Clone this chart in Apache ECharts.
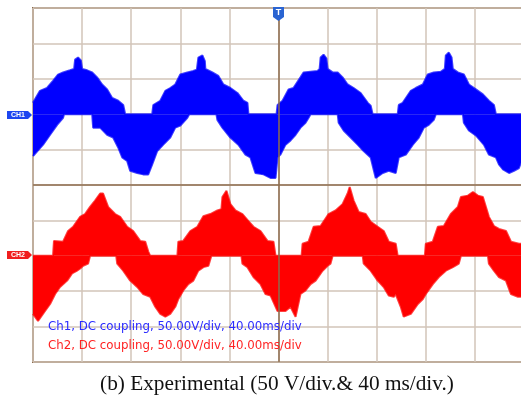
<!DOCTYPE html>
<html lang="en" style="height: 100%">

<head>
  <meta charset="utf-8">
  <style>
    html,
    body {
      margin: 0;
      padding: 0;
      width: 100%;
      height: 100%;
      overflow: hidden;
      background: #fff;
    }
  </style>
</head>

<body>
  <!-- a little wider than the window: the scope frame runs off the right edge -->
  <div id="container" style="height: 398px;width: 528px;"></div>

  <script type="text/javascript" src="https://cdn.jsdelivr.net/npm/echarts@6/dist/echarts.min.js"></script>
  <script type="text/javascript">

    // time in ms (40 ms/div), voltage in V (50 V/div)
    // upper = highest excursion, lower = lowest excursion
    const ch1Upper = [
      [0, 16], [5.7, 33], [11.4, 37], [16.3, 47], [20.4, 56], [24.5, 59], [30.2, 62], [33.5, 64], [34.3, 77], [36.7, 80],
      [39, 76], [40, 64], [44.1, 62], [48.2, 59], [52.2, 52], [56.3, 42], [60.4, 35], [64.5, 23], [69.4, 19], [73.5, 13],
      [75.1, 0], [97.1, 0],
      [98, 13], [103.7, 19], [107.8, 33], [111.8, 37], [115.9, 42], [120, 56], [125.7, 59], [130.6, 61], [133.5, 63], [134.7, 80],
      [138, 83], [140, 75], [140.4, 64], [146.1, 59], [151, 54], [155.1, 42], [160.8, 37], [166.5, 30], [171.4, 19], [174.7, 16],
      [175.5, 0], [198.4, 0],
      [199.2, 13], [203.3, 19], [208.2, 35], [212.2, 37], [217.9, 52], [220.4, 59], [226.1, 60], [231.8, 61], [233.5, 64], [234.3, 80],
      [236.7, 84], [239, 79], [240, 64], [244.1, 59], [248.2, 59], [252.2, 52], [256.3, 42], [261.2, 37], [266.9, 30], [272.7, 16],
      [275.1, 12], [276.7, 0], [297.1, 0],
      [298, 13], [301.2, 16], [307.8, 33], [311.8, 37], [317.6, 42], [321.6, 56], [326.5, 59], [332.2, 60], [335.5, 64], [336.3, 83],
      [338.8, 87], [341, 80], [342, 64], [346.1, 59], [351, 56], [355.1, 42], [360.8, 35], [366.5, 28], [371.4, 19], [375.5, 13],
      [377.1, 0], [402, 0]
    ];
    const ch1Lower = [
      [0, -59], [1.6, -57], [8.2, -43], [13.9, -29], [19.6, -15], [24.5, -5], [25.3, 0], [48.2, 0],
      [49, -19], [54.7, -19], [60.4, -29], [65.3, -33], [69.4, -47], [72.7, -61], [76.7, -66], [79.2, -80], [84.9, -83],
      [89.8, -85], [93.9, -85], [97.1, -71], [101.2, -52], [106.1, -43], [111.8, -33], [115.9, -19], [120, -16],
      [125.7, -5], [127.3, 0], [149.4, 0],
      [150.2, -8], [154.3, -19], [160.8, -33], [167.3, -43], [173.1, -57], [177.1, -61], [181.2, -83], [187.8, -85],
      [193.5, -90], [197.6, -90], [199.2, -61], [201.6, -57], [205.7, -43], [209.8, -37], [213.9, -29], [217.9, -19],
      [222, -12], [224.5, -5], [226.1, 0], [248.2, 0],
      [249, -12], [253.1, -23], [258.8, -33], [264.5, -43], [269.4, -52], [275.1, -61], [279.2, -90], [284.9, -83],
      [289.8, -80], [295.5, -83], [298, -61], [303.7, -57], [309.4, -43], [314.3, -33], [318.4, -19], [322.4, -15],
      [326.5, -8], [328.2, 0], [350.2, 0],
      [351, -12], [355.1, -23], [360.8, -30], [367.3, -43], [371.4, -57], [377.1, -61], [379.6, -71], [382.9, -78],
      [387.8, -83], [391.8, -80], [395.9, -76], [398.4, -64], [402, -60]
    ];
    const ch2Upper = [
      [0, 0], [16.3, 0], [17.1, 21], [24.5, 20], [28.6, 35], [32.7, 41], [38.4, 55], [42.4, 59], [46.5, 69], [50.6, 78],
      [54.7, 88], [57.1, 88], [61.2, 69], [66.9, 59], [71, 55], [76.7, 41], [81.6, 35], [87.3, 21], [91.4, 20], [93.9, 6],
      [95.5, 0], [117.6, 0],
      [118.4, 20], [122.4, 21], [128.2, 35], [133.9, 41], [138.8, 56], [144.5, 59], [150.2, 64], [153.5, 66], [154.3, 83], [157.6, 92],
      [160.8, 73], [164.9, 64], [170.6, 59], [175.5, 49], [179.6, 41], [185.3, 35], [191, 21], [195.9, 20], [197.6, 0],
      [218.8, 0],
      [219.6, 17], [224.5, 20], [228.6, 41], [234.3, 42], [240.8, 59], [246.5, 64], [252.2, 73], [256.3, 88], [258, 97],
      [261.2, 78], [265.3, 62], [271, 59], [275.1, 48], [280.8, 41], [285.7, 35], [289.8, 20], [295.5, 17], [297.1, 0],
      [319.2, 0],
      [320, 17], [325.7, 20], [329.8, 41], [334.7, 42], [340.4, 59], [346.1, 69], [348.6, 83], [354.3, 85], [358.4, 90],
      [362.4, 85], [366.5, 83], [371.4, 55], [375.5, 42], [379.6, 38], [385.3, 35], [389.4, 20], [395.9, 17], [402, 17]
    ];
    const ch2Lower = [
      [0, -82], [4.1, -92], [5.7, -92], [9.8, -78], [13.9, -68], [18, -54], [22, -44], [27.8, -35], [31.8, -25],
      [35.9, -21], [38.4, -18], [40.8, -14], [44.9, -11], [46.5, 0], [67.8, 0],
      [68.6, -11], [73.5, -21], [79.2, -35], [84.9, -44], [89.8, -54], [95.5, -58], [99.6, -72], [103.7, -82],
      [107.8, -86], [111.8, -82], [115.9, -72], [118.4, -61], [122.4, -49], [126.5, -40], [130.6, -35], [134.7, -21],
      [138.8, -16], [142.9, -14], [145.3, 0], [169.8, 0],
      [170.6, -11], [174.7, -16], [179.6, -30], [185.3, -40], [189.4, -54], [193.5, -56], [199.2, -78], [205.7, -78],
      [209.8, -72], [213.9, -86], [217.9, -54], [222, -49], [226.1, -40], [230.2, -35], [235.9, -21], [240, -14],
      [242.4, -11], [244.1, 0], [268.6, 0],
      [269.4, -11], [275.1, -21], [280.8, -35], [285.7, -44], [289.8, -56], [293.9, -58], [295.5, -54], [299.6, -72],
      [302, -86], [307.8, -82], [313.5, -68], [317.6, -61], [320, -54], [325.7, -40], [330.6, -30], [336.3, -21],
      [342, -16], [346.9, -11], [348.6, 0], [370.6, 0],
      [371.4, -11], [375.5, -21], [379.6, -30], [385.3, -35], [389.4, -54], [395.1, -58], [402, -58]
    ];

    const infoLines = [
      'Ch1, DC coupling, 50.00V/div, 40.00ms/div',
      'Ch2, DC coupling, 50.00V/div, 40.00ms/div'
    ];
    const caption = '(b) Experimental (50 V/div.& 40 ms/div.)';

    const BLUE = '#0000ff';
    const RED = '#ff0000';
    const GRID = '#d2c5b8';
    const FRAME = '#8c6c4e';

    var dom = document.getElementById('container');
    var myChart = echarts.init(dom, null, { renderer: 'canvas' });

    function trace(data, axis, color) {
      return {
        type: 'line',
        yAxisIndex: axis,
        data: data,
        symbol: 'none',
        silent: true,
        z: 3,
        lineStyle: { color: color, width: 2, opacity: 0.75 },
        areaStyle: { color: color, opacity: 1 }
      };
    }

    var option = {
      animation: false,
      backgroundColor: '#fff',
      grid: {
        left: 33,
        top: 8,
        width: 491,
        height: 354,
        show: true,
        borderColor: FRAME,
        borderWidth: 2,
        backgroundColor: '#fff'
      },
      xAxis: {
        type: 'value',
        min: 0,
        max: 400,
        interval: 40,
        axisLine: { show: false },
        axisTick: { show: false },
        axisLabel: { show: false },
        splitLine: { show: true, lineStyle: { color: GRID, width: 1.5 } }
      },
      yAxis: [
        {
          // CH1: ground 3 div below top
          type: 'value',
          min: -350,
          max: 150,
          interval: 50,
          axisLine: { show: false },
          axisTick: { show: false },
          axisLabel: { show: false },
          splitLine: { show: true, lineStyle: { color: GRID, width: 1.5 } }
        },
        {
          // CH2: ground 7 div below top
          type: 'value',
          min: -150,
          max: 350,
          interval: 50,
          axisLine: { show: false },
          axisTick: { show: false },
          axisLabel: { show: false },
          splitLine: { show: false }
        }
      ],
      series: [
        {
          type: 'line',
          data: [],
          z: 1,
          silent: true,
          markLine: {
            symbol: 'none',
            silent: true,
            label: { show: false },
            lineStyle: { color: FRAME, width: 1.5, type: 'solid' },
            data: [{ xAxis: 200 }, { yAxis: -100 }]
          }
        },
        trace(ch1Upper, 0, BLUE),
        trace(ch1Lower, 0, BLUE),
        trace(ch2Upper, 1, RED),
        trace(ch2Lower, 1, RED)
      ],
      graphic: [
        { type: 'polygon', z: 10, shape: { points: [[7, 111], [28, 111], [32, 115], [28, 119], [7, 119]] }, style: { fill: '#1d46f0' } },
        { type: 'text', z: 11, x: 18, y: 115, style: { text: 'CH1', fill: '#fff', font: 'bold 7px "Liberation Sans"', textAlign: 'center', textVerticalAlign: 'middle', align: 'center', verticalAlign: 'middle' } },
        { type: 'polygon', z: 10, shape: { points: [[7, 251], [28, 251], [32, 255], [28, 259], [7, 259]] }, style: { fill: '#f01e1e' } },
        { type: 'text', z: 11, x: 18, y: 255, style: { text: 'CH2', fill: '#fff', font: 'bold 7px "Liberation Sans"', textAlign: 'center', textVerticalAlign: 'middle', align: 'center', verticalAlign: 'middle' } },
        { type: 'polygon', z: 10, shape: { points: [[273, 7], [284, 7], [284, 17], [278.5, 21], [273, 17]] }, style: { fill: '#2a64d2' } },
        { type: 'text', z: 11, x: 278.5, y: 13, style: { text: 'T', fill: '#fff', font: 'bold 9px "Liberation Sans"', textAlign: 'center', textVerticalAlign: 'middle', align: 'center', verticalAlign: 'middle' } },
        { type: 'text', z: 11, x: 48, y: 327, style: { text: infoLines[0], fill: '#2b2bff', font: '11.8px "DejaVu Sans"', textAlign: 'left', textVerticalAlign: 'middle', align: 'left', verticalAlign: 'middle' } },
        { type: 'text', z: 11, x: 48, y: 346, style: { text: infoLines[1], fill: '#ff2222', font: '11.8px "DejaVu Sans"', textAlign: 'left', textVerticalAlign: 'middle', align: 'left', verticalAlign: 'middle' } },
        { type: 'text', z: 11, x: 277, y: 384, style: { text: caption, fill: '#111', font: '21.3px "Liberation Serif"', textAlign: 'center', textVerticalAlign: 'middle', align: 'center', verticalAlign: 'middle' } }
      ]
    };

    myChart.setOption(option);
  </script>
</body>

</html>
